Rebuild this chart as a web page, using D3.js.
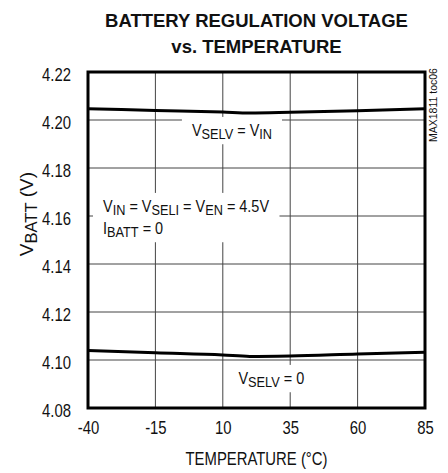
<!DOCTYPE html>
<html>
<head>
<meta charset="utf-8">
<script src="https://cdn.jsdelivr.net/npm/d3@7"></script>
<style>
  body { margin: 0; background: #fff; }
  svg { display: block; }
  text { font-family: "Liberation Sans", Arial, sans-serif; fill: #111; }
</style>
</head>
<body>
<svg></svg>
<script>
// Chart data
const temps = [-40, -15, 10, 20, 35, 60, 85];
const vSelvVin = [4.2047, 4.2040, 4.2033, 4.2029, 4.2032, 4.2039, 4.2047];
const vSelv0 = [4.1040, 4.1030, 4.1021, 4.1015, 4.1017, 4.1025, 4.1032];
const xTicks = [-40, -15, 10, 35, 60, 85];
const yTicks = [4.08, 4.10, 4.12, 4.14, 4.16, 4.18, 4.20, 4.22];

const svgWidth = 448, svgHeight = 473;
const margin = { top: 72, right: 23, bottom: 65, left: 88 };
const chartWidth = svgWidth - margin.left - margin.right;
const chartHeight = svgHeight - margin.top - margin.bottom;

// the original uses a narrow sans; squeeze Liberation Sans horizontally
const narrow = 0.85;

const svg = d3.select("svg")
    .attr("width", svgWidth)
    .attr("height", svgHeight);

// Title
const title = svg.append("g").attr("font-weight", "bold").attr("font-size", 18.5).attr("text-anchor", "middle");
title.append("text").attr("x", margin.left + chartWidth / 2).attr("y", 27).text("BATTERY REGULATION VOLTAGE");
title.append("text").attr("x", margin.left + chartWidth / 2).attr("y", 53).text("vs. TEMPERATURE");

const chart = svg.append("g")
    .attr("transform", `translate(${margin.left},${margin.top})`);

const xScale = d3.scaleLinear().domain([-40, 85]).range([0, chartWidth]);
const yScale = d3.scaleLinear().domain([4.08, 4.22]).range([chartHeight, 0]);

// Grid lines
chart.append("g")
    .selectAll("line")
    .data(xTicks)
    .join("line")
    .attr("x1", d => xScale(d)).attr("x2", d => xScale(d))
    .attr("y1", 0).attr("y2", chartHeight)
    .attr("stroke", "#444").attr("stroke-width", 1);

chart.append("g")
    .selectAll("line")
    .data(yTicks)
    .join("line")
    .attr("x1", 0).attr("x2", chartWidth)
    .attr("y1", d => yScale(d)).attr("y2", d => yScale(d))
    .attr("stroke", "#444").attr("stroke-width", 1);

// squeeze axis tick text while keeping its anchor point
function squeeze(sel) {
    sel.each(function() {
        const t = d3.select(this);
        const x = +t.attr("x") || 0;
        t.attr("x", x / narrow).attr("transform", `scale(${narrow},1)`);
    });
}

// Axis labels (no tick marks, just text)
const xAxis = d3.axisBottom(xScale).tickValues(xTicks).tickSize(0).tickPadding(14).tickFormat(d => String(d));
const xg = chart.append("g").attr("transform", `translate(0,${chartHeight})`).call(xAxis);
xg.select(".domain").remove();
xg.selectAll("text").attr("font-size", 17.5).attr("font-family", null).attr("fill", "#111").call(squeeze);

const yAxis = d3.axisLeft(yScale).tickValues(yTicks).tickSize(0).tickPadding(17).tickFormat(d3.format(".2f"));
const yg = chart.append("g").call(yAxis);
yg.select(".domain").remove();
yg.selectAll("text").attr("font-size", 17.5).attr("font-family", null).attr("fill", "#111").attr("dy", "0.48em").call(squeeze);

// Axis titles
svg.append("text")
    .attr("transform", `translate(${margin.left + chartWidth / 2},465) scale(${narrow},1)`)
    .attr("text-anchor", "middle")
    .attr("font-size", 17.5)
    .text("TEMPERATURE (°C)");

const yTitle = svg.append("text")
    .attr("transform", "translate(33,214) rotate(-90)")
    .attr("text-anchor", "middle")
    .attr("font-size", 19);
yTitle.append("tspan").text("V");
yTitle.append("tspan").attr("font-size", 16.5).attr("dy", 4).text("BATT");
yTitle.append("tspan").attr("dy", -4).text(" (V)");

svg.append("text")
    .attr("transform", "translate(437,142) rotate(-90)")
    .attr("font-size", 10.5)
    .text("MAX1811 toc06");

// Annotation helper: white box behind rich text made of [text, isSub] pieces
function annotate(lines, x, y, lineHeight, anchor) {
    const g = chart.append("g").attr("transform", `translate(${x},${y}) scale(${narrow},1)`);
    const box = g.append("rect").attr("fill", "#fff");
    const t = g.append("text").attr("font-size", 17).attr("text-anchor", anchor || "start");
    lines.forEach((parts, i) => {
        parts.forEach(([str, sub], j) => {
            const ts = t.append("tspan").text(str);
            if (j === 0) ts.attr("x", 0).attr("y", i * lineHeight);
            if (sub) ts.attr("font-size", 15).attr("dy", 3);
            else if (j > 0 && parts[j - 1][1]) ts.attr("dy", -3);
        });
    });
    const bb = t.node().getBBox();
    const padX = 10 / narrow;
    box.attr("x", bb.x - padX).attr("y", bb.y - 4).attr("width", bb.width + 2 * padX).attr("height", bb.height + 6);
}

annotate([[["V"], ["SELV", true], [" = V"], ["IN", true]]],
    xScale(13.4), yScale(4.20) + 16, 0, "middle");

annotate([
    [["V"], ["IN", true], [" = V"], ["SELI", true], [" = V"], ["EN", true], [" = 4.5V"]],
    [["I"], ["BATT", true], [" = 0"]]
], 15, yScale(4.16) - 4, 22, "start");

annotate([[["V"], ["SELV", true], [" = 0"]]],
    xScale(28), yScale(4.08) - 24, 0, "middle");

// Curves
const line = d3.line()
    .x(d => xScale(d[0]))
    .y(d => yScale(d[1]))
    .curve(d3.curveMonotoneX);

[vSelvVin, vSelv0].forEach(series => {
    chart.append("path")
        .datum(temps.map((t, i) => [t, series[i]]))
        .attr("d", line)
        .attr("fill", "none")
        .attr("stroke", "#000")
        .attr("stroke-width", 3);
});

// Frame
chart.append("rect")
    .attr("width", chartWidth).attr("height", chartHeight)
    .attr("fill", "none").attr("stroke", "#000").attr("stroke-width", 3);
</script>
</body>
</html>
